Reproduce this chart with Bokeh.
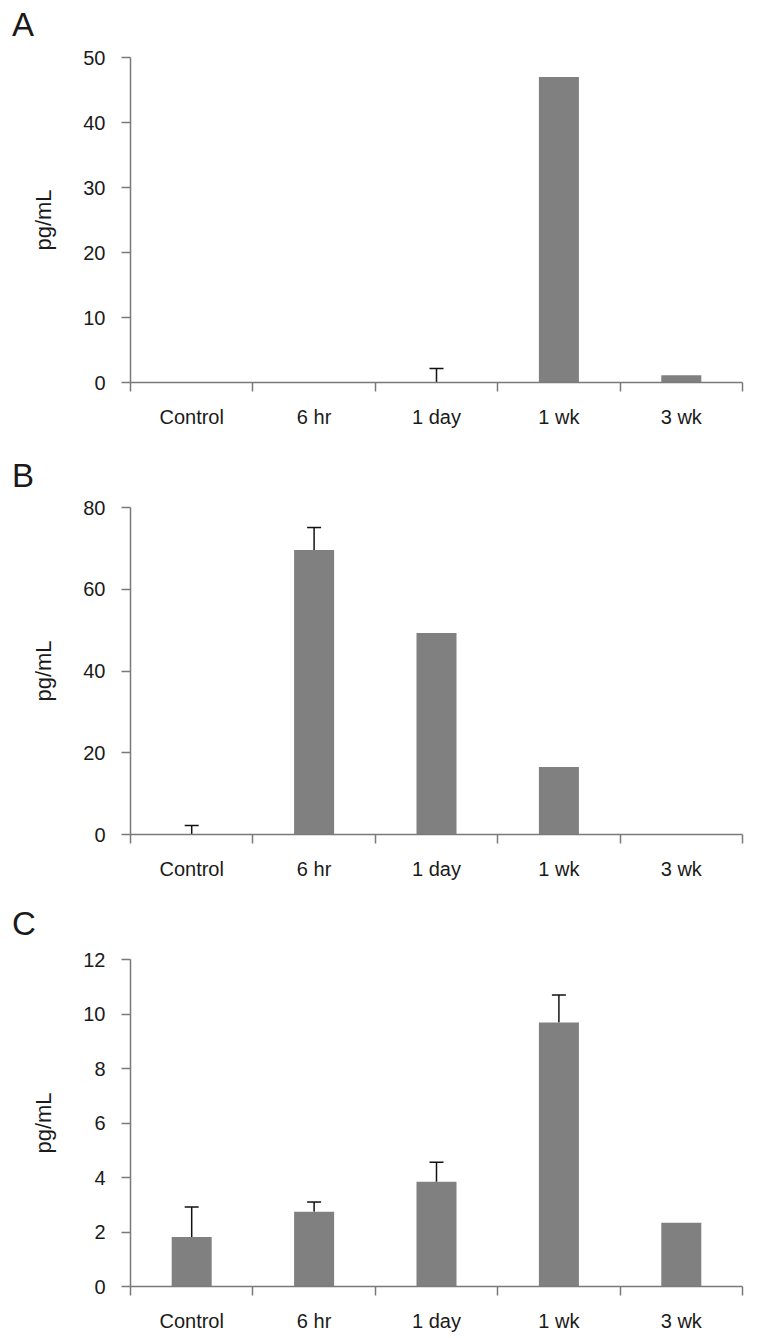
from bokeh.plotting import figure
from bokeh.models import FixedTicker, Whisker, TeeHead, ColumnDataSource, Range1d, Div
from bokeh.layouts import column
from bokeh.embed import file_html
from bokeh.resources import INLINE

categories = ["Control", "6 hr", "1 day", "1 wk", "3 wk"]
a_values = [0, 0, 0, 47.0, 1.1]
a_errors = [0, 0, 2.15, 0, 0]
b_values = [0, 69.6, 49.3, 16.5, 0]
b_errors = [2.2, 5.5, 0, 0, 0]
c_values = [1.82, 2.74, 3.84, 9.69, 2.34]
c_errors = [1.10, 0.36, 0.72, 1.01, 0]
a_ticks = [0, 10, 20, 30, 40, 50]
b_ticks = [0, 20, 40, 60, 80]
c_ticks = [0, 2, 4, 6, 8, 10, 12]
panel_labels = ["A", "B", "C"]

FONT = "Liberation Sans"
AXIS_COLOR = "#7a7a7a"
TEXT_COLOR = "#1a1a1a"
BAR_COLOR = "#808080"


def letter(label, pad_top):
    html = ('<div style="font-family:\'Liberation Sans\';font-size:33px;line-height:33px;'
            'margin:0;padding:%dpx 0 0 12px;color:%s;">%s</div>' % (pad_top, TEXT_COLOR, label))
    return Div(text=html, width=747, height=40, margin=0)


def panel(values, errors, ticks, frame_h, top, bottom):
    n = len(categories)
    xs = [i + 0.5 for i in range(n)]
    p = figure(width=747, height=top + frame_h + bottom,
               frame_width=612, frame_height=frame_h,
               min_border_left=130, min_border_right=5,
               min_border_top=top, min_border_bottom=bottom,
               x_range=Range1d(0, n), y_range=Range1d(0, ticks[-1]),
               output_backend="svg", toolbar_location=None,
               background_fill_color="white", border_fill_color="white")
    p.outline_line_color = None
    p.grid.visible = False

    src = ColumnDataSource(dict(x=xs, top=values))
    p.vbar(x="x", top="top", bottom=0, width=0.327, source=src,
           fill_color=BAR_COLOR, line_color=None)

    ex = [xs[i] for i in range(n) if errors[i] > 0]
    eb = [values[i] for i in range(n) if errors[i] > 0]
    eu = [values[i] + errors[i] for i in range(n) if errors[i] > 0]
    esrc = ColumnDataSource(dict(x=ex, base=eb, upper=eu))
    w = Whisker(base="x", lower="base", upper="upper", dimension="height", source=esrc,
                line_color="#111111", line_width=1.5,
                upper_head=TeeHead(size=14, line_color="#111111", line_width=1.5),
                lower_head=None)
    p.add_layout(w)

    xa = p.xaxis[0]
    xa.ticker = FixedTicker(ticks=xs, minor_ticks=list(range(n + 1)))
    xa.major_label_overrides = {x: c for x, c in zip(xs, categories)}
    xa.major_tick_out = 0
    xa.major_tick_in = 0
    xa.minor_tick_out = 9
    xa.minor_tick_in = 0
    xa.minor_tick_line_color = AXIS_COLOR
    xa.minor_tick_line_width = 1.5
    xa.axis_line_color = AXIS_COLOR
    xa.axis_line_width = 1.5
    xa.major_label_text_font = FONT
    xa.major_label_text_font_size = "20px"
    xa.major_label_text_color = TEXT_COLOR
    xa.major_label_standoff = 14

    ya = p.yaxis[0]
    ya.ticker = FixedTicker(ticks=ticks, minor_ticks=[])
    ya.major_tick_out = 9
    ya.major_tick_in = 0
    ya.major_tick_line_color = AXIS_COLOR
    ya.major_tick_line_width = 1.5
    ya.axis_line_color = AXIS_COLOR
    ya.axis_line_width = 1.5
    ya.major_label_text_font = FONT
    ya.major_label_text_font_size = "20px"
    ya.major_label_text_color = TEXT_COLOR
    ya.major_label_standoff = 16
    ya.axis_label = "pg/mL"
    ya.axis_label_text_font = FONT
    ya.axis_label_text_font_size = "22px"
    ya.axis_label_text_font_style = "normal"
    ya.axis_label_text_color = TEXT_COLOR
    ya.axis_label_standoff = 24
    return p


la = letter(panel_labels[0], 8)
pa = panel(a_values, a_errors, a_ticks, 325, 17, 68)
lb = letter(panel_labels[1], 9)
pb = panel(b_values, b_errors, b_ticks, 327, 17, 66)
lc = letter(panel_labels[2], 7)
pc = panel(c_values, c_errors, c_ticks, 327, 19, 52)

layout = column(la, pa, lb, pb, lc, pc, spacing=0)
open("out.html", "w").write(file_html(layout, INLINE))
